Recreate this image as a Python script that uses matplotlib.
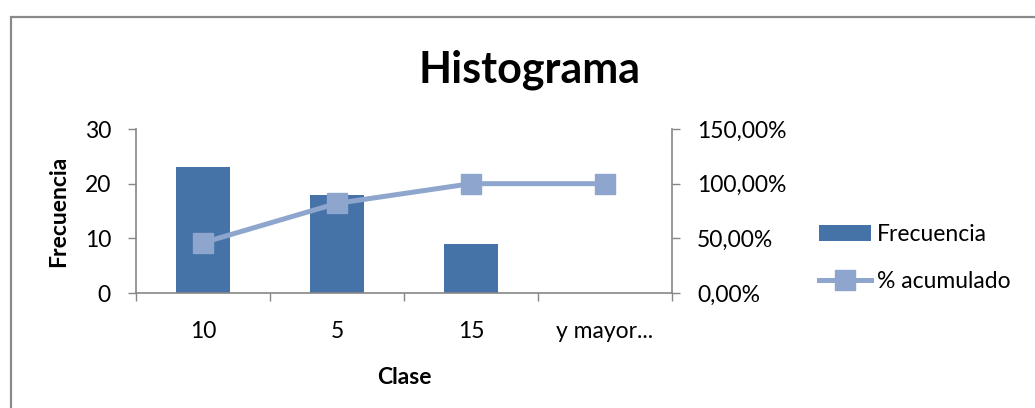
import numpy as np
import matplotlib
matplotlib.use("Agg")
import matplotlib.pyplot as plt
from matplotlib.patches import Rectangle
from matplotlib.ticker import FuncFormatter, FixedLocator

plt.rcParams['font.family'] = ['Lato', 'DejaVu Sans']

# datos
clases = ['10', '5', '15', 'y mayor...']
frecuencia = [23, 18, 9, 0]
acumulado = [0.46, 0.82, 1.00, 1.00]

bar_color = '#4572A7'
line_color = '#8EA6CE'
axis_color = '#868686'
fs = 16.5

fig = plt.figure(figsize=(10.35, 4.08), dpi=100)
ax = fig.add_axes((136 / 1035, 1 - 293 / 408, 536 / 1035, 164 / 408))
ax2 = ax.twinx()

x = np.arange(len(clases))
ax.bar(x, frecuencia, width=0.4, color=bar_color, label='Frecuencia', zorder=2)
ax2.plot(x, acumulado, color=line_color, lw=3.6, marker='s', ms=14,
         mfc=line_color, mec=line_color, label='% acumulado', zorder=3)

ax.set_xlim(-0.5, 3.5)
ax.set_ylim(0, 30)
ax2.set_ylim(0, 1.5)
ax.set_yticks([0, 10, 20, 30])
ax2.set_yticks([0, 0.5, 1.0, 1.5])
ax2.yaxis.set_major_formatter(FuncFormatter(lambda v, p: f"{v * 100:.2f}%".replace('.', ',')))

ax.set_xticks(x)
ax.set_xticklabels(clases)
ax.xaxis.set_minor_locator(FixedLocator(np.arange(-0.5, 4, 1)))
ax.tick_params(axis='x', which='major', length=0, pad=20, labelsize=fs)
ax.tick_params(axis='x', which='minor', length=6, width=1, color=axis_color, direction='out')
ax.tick_params(axis='y', length=6, width=1, color=axis_color, labelsize=fs, pad=12)
ax2.tick_params(axis='y', length=6, width=1, color=axis_color, labelsize=fs, pad=12)

for s in ['top', 'right']:
    ax.spines[s].set_visible(False)
for s in ['top', 'left', 'bottom']:
    ax2.spines[s].set_visible(False)
for sp in [ax.spines['left'], ax.spines['bottom'], ax2.spines['right']]:
    sp.set_color(axis_color)
    sp.set_linewidth(1.2)

ax.set_ylabel('Frecuencia', fontsize=fs, fontweight='bold', labelpad=11)
ax.set_xlabel('Clase', fontsize=fs, fontweight='bold', labelpad=18)
fig.text(530 / 1035, 1 - 82 / 408, 'Histograma', fontsize=31, fontweight='bold',
         ha='center', va='baseline')

h1, l1 = ax.get_legend_handles_labels()
h2, l2 = ax2.get_legend_handles_labels()
fig.legend(h1 + h2, l1 + l2, loc='center left', bbox_to_anchor=(819 / 1035, 1 - 258 / 408),
           frameon=False, fontsize=fs, handlelength=2.25, handletextpad=0.26,
           labelspacing=1.13, borderpad=0, borderaxespad=0, numpoints=1)

# marco del grafico
fig.patches.append(Rectangle((11 / 1035, -0.1), 1.2, 1 - 17 / 408 + 0.1,
                             transform=fig.transFigure, fill=False,
                             edgecolor='#8A8A8A', lw=1.6, clip_on=False))

fig.savefig('out.png', dpi=100)
